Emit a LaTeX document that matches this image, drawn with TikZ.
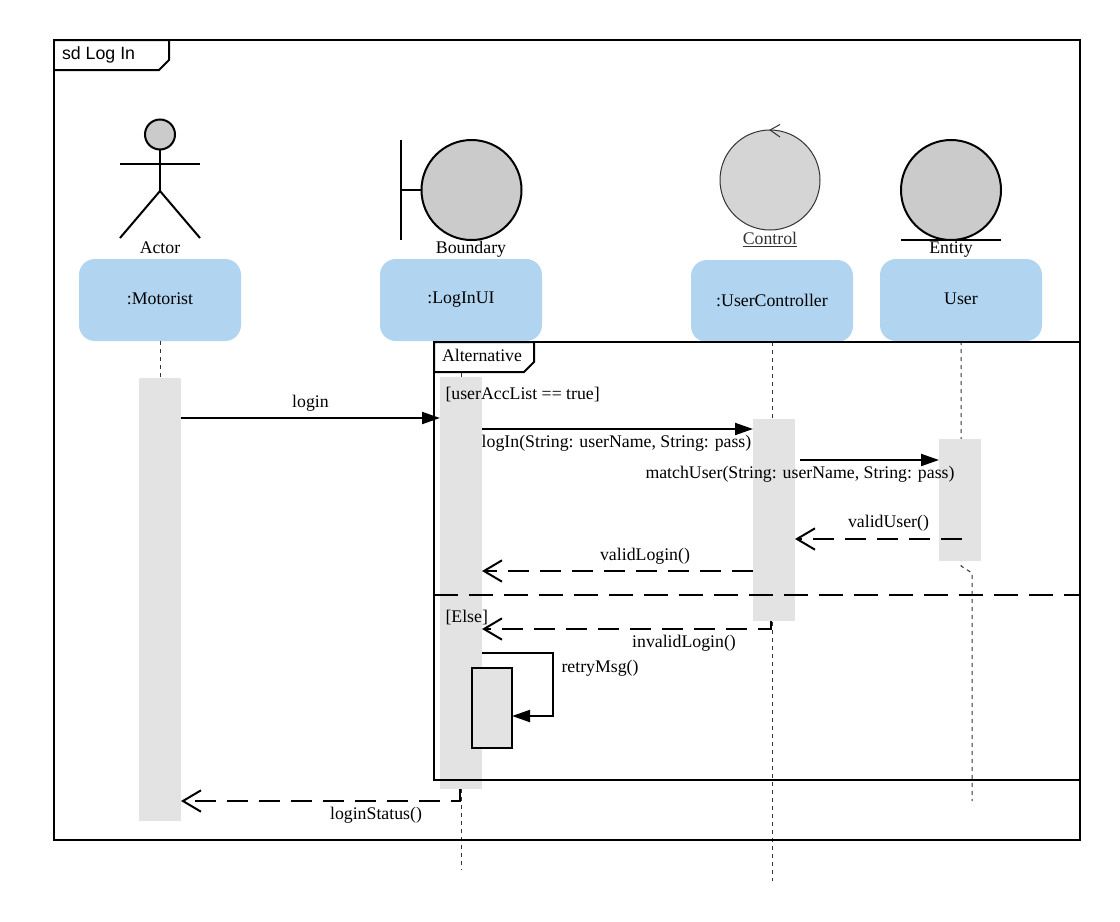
\documentclass[tikz,border=0pt]{standalone}
\usepackage{fontspec}
\setmainfont{Liberation Serif}
\newfontfamily\framefont{Liberation Sans}
\usetikzlibrary{arrows.meta,calc}
\definecolor{actbg}{HTML}{E3E3E3}
\definecolor{lifebg}{HTML}{B1D5F0}
\definecolor{iconbg}{HTML}{CBCBCB}
\definecolor{ctrlbg}{HTML}{D5D5D5}
\definecolor{ctrlink}{HTML}{333333}
\tikzset{
  line/.style={line width=1.5pt,draw=black,line join=miter},
  sync/.style={line,-{Triangle[length=13.5pt,width=9pt]}},
  ret/.style={line,dash pattern=on 16pt off 8pt,-{Straight Barb[length=13.5pt,width=16pt,line width=1.5pt]}},
  part/.style={line,dash pattern=on 18pt off 8.25pt},
  life/.style={line width=0.75pt,draw=black!80,dash pattern=on 3pt off 3pt},
  lifebox/.style={fill=lifebg,rounded corners=12pt,minimum width=121.5pt,minimum height=61.5pt,inner sep=0pt,outer sep=0pt,font=\fontsize{13.33pt}{15pt}\selectfont},
  act/.style={fill=actbg,inner sep=0pt,outer sep=0pt},
  icon/.style={circle,line,fill=iconbg,minimum size=75pt,inner sep=0pt,outer sep=0pt},
  txt/.style={inner sep=0pt,outer sep=0pt,font=\fontsize{13.33pt}{15pt}\selectfont,text=black},
  ltxt/.style={txt,anchor=west},
}
\begin{document}
\begin{tikzpicture}[x=0.75pt,y=-0.75pt]
\useasboundingbox (0,0) rectangle (1120,921);
\fill[white] (0,0) rectangle (1120,921);

% free ends and connector corners
\coordinate (endB) at (461,870);
\coordinate (endC) at (772,881);
\coordinate (endD) at (972,801);

% lifeline heads
\node[lifebox] (motorist) at (160,300) {\raisebox{2pt}{:Motorist}};
\node[lifebox] (logui) at (461,300) {\raisebox{2pt}{:LogInUI}};
\node[lifebox] (uctrl) at (772,301) {\raisebox{1pt}{:UserController}};
\node[lifebox] (user) at (961,300) {\raisebox{2pt}{User}};

% lifelines
\draw[life] (motorist.south) -- (160,378);
\draw[life] (logui.south) -- (endB);
\draw[life] (uctrl.south) -- (endC);
\draw[life] (user.south) -- (961,566) -- (972,573) -- (endD);

% activations
\node[act,minimum width=31.5pt,minimum height=332.25pt] (actA) at (160,599.5) {};
\node[act,minimum width=31.5pt,minimum height=309pt] (actB) at (461,583) {};
\node[act,minimum width=31.5pt,minimum height=151.5pt] (actC) at (774,520) {};
\node[act,minimum width=31.5pt,minimum height=91.5pt] (actD) at (960,500) {};
\node[act,line,minimum width=30pt,minimum height=60pt] (actE) at (492,708) {};

% frame
\draw[line] (54,40) rectangle (1080,840);
\draw[line] (54,40) -- (169,40) -- (169,60) -- (159,70) -- (54,70);
\node[ltxt,font=\framefont\fontsize{13.33pt}{15pt}\selectfont,text=black] (framelabel) at (62,54.5) {sd Log In};

% actor
\node[circle,line,fill=iconbg,minimum size=22.5pt,inner sep=0pt,outer sep=0pt] (head) at (160,134.5) {};
\coordinate (hip) at (160,191);
\draw[line] (head.south) -- (hip);
\draw[line] (120,164) -- (200,164);
\draw[line] (120,238) -- (hip) -- (200,238);
\node[txt] (actorlabel) at (160,247.5) {Actor};

% boundary
\node[icon] (bound) at (471.5,190) {};
\draw[line] (401,140) -- (401,240);
\draw[line] (401,190) -- (bound.west);
\node[txt] (boundlabel) at (471,249.5) {Boundary};

% control
\node[circle,draw=ctrlink,line width=0.75pt,fill=ctrlbg,minimum size=75pt,inner sep=0pt,outer sep=0pt] (ctrl) at (770,180) {};
\draw[ctrlink,line width=0.75pt] (780,124.5) -- (ctrl.north) -- (780,137);
\node[txt,text=ctrlink] (ctrllabel) at (770,239.5) {\underline{Control}};

% entity
\node[icon] (ent) at (951,190) {};
\draw[line] (901,240) -- (1001,240);
\node[txt] (entlabel) at (951,249.5) {Entity};

% alternative fragment
\draw[line] (1080,342) -- (434,342) -- (434,780) -- (1080,780);
\draw[line,fill=white] (434,342) -- (534,342) -- (534,362) -- (524,372) -- (434,372) -- cycle;
\node[ltxt] (altlabel) at (442,355.5) {Alternative};
\node[ltxt] (guard1) at (445.5,394.5) {[userAccList == true]};
\node[ltxt] (guard2) at (445.5,617.5) {[Else]};
\draw[part] (434,595) -- (1080,595);

% messages
\draw[sync] ($(actA.north east)+(0,40)$) -- (actB.west |- 0,418);
\node[txt] (m1) at (310.5,403) {login};
\draw[sync] (actB.east |- 0,429) -- (actC.west |- 0,429);
\node[txt] (m2) at (616.5,443.5) {logIn(String: userName, String: pass)};
\draw[sync] ($(actC.east |- 0,460)+(5,0)$) -- (actD.west |- 0,460);
\node[txt] (m3) at (800,474.5) {matchUser(String: userName, String: pass)};
\draw[ret] (962,539) -- (actC.east |- 0,539);
\node[txt] (m4) at (888.5,523.5) {validUser()};
\draw[ret] (actC.west |- 0,571) -- (actB.east |- 0,571);
\node[txt] (m5) at (645,556) {validLogin()};
\draw[ret] (771,621) -- (771,629) -- (actB.east |- 0,629);
\node[txt] (m6) at (684,643.5) {invalidLogin()};
\draw[line,-{Triangle[length=13.5pt,width=9pt]}] (actB.east |- 0,653) -- (553,653) -- (553,716) -- (actE.east |- 0,716);
\node[txt] (m7) at (600,668.5) {retryMsg()};
\draw[ret] (460,789) -- (460,801) -- (actA.east |- 0,801);
\node[txt] (m8) at (376,815.5) {loginStatus()};
\end{tikzpicture}
\end{document}
